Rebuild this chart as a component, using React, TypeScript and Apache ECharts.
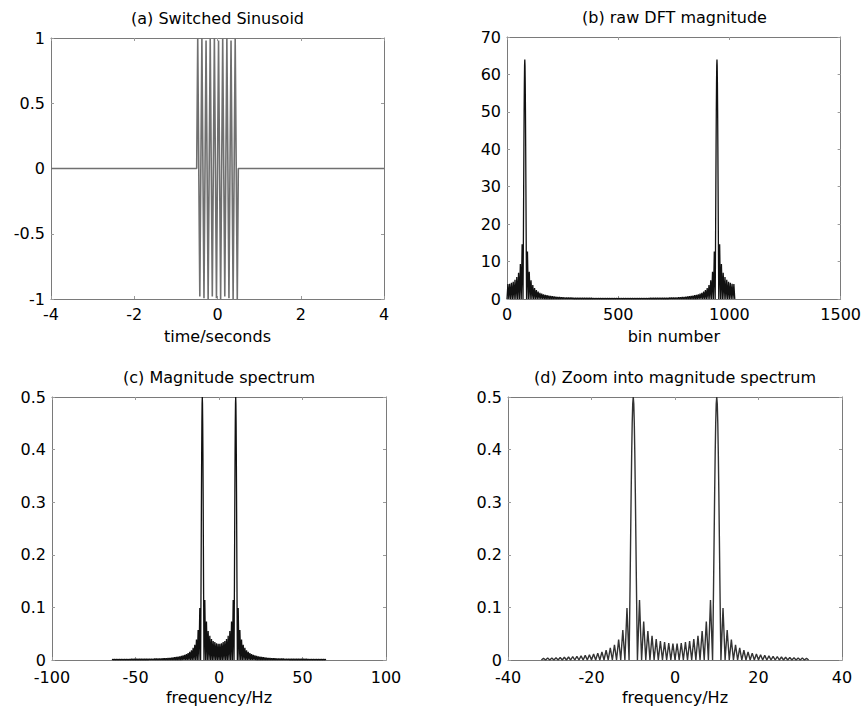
import React, { useEffect, useRef } from "react";
import * as echarts from "echarts";

// ---------- data ----------
// (a) switched sinusoid: zero outside the switched-on interval, +/-1 extremes inside
const sineTimes = [
  -4, -0.5, -0.475, -0.425, -0.375, -0.325, -0.275, -0.225, -0.175, -0.125, -0.075, -0.025,
  0.025, 0.075, 0.125, 0.175, 0.225, 0.275, 0.325, 0.375, 0.425, 0.475, 0.5, 4,
];
const sineValues = [
  0, 0, 0.995, -0.98, 1, -0.995, 0.98, -1, 0.995, -0.98, 1, -0.995,
  0.98, -1, 0.995, -0.98, 1, -0.995, 0.98, -1, 0.995, -1, 0, 0,
];

// normalised magnitude spectrum (positive half; negative half is its mirror)
// side-lobe peaks between 0 Hz and the 10 Hz tone (at 0.5, 1.5, ... 8.5 Hz)
const innerLobePeaks = [0.031, 0.032, 0.034, 0.036, 0.04, 0.046, 0.055, 0.073, 0.114];
// main lobe around the tone: offsets (Hz) from the tone and magnitudes
const toneHz = 10;
const mainLobeOffsets = [
  -0.875, -0.75, -0.625, -0.5, -0.375, -0.25, -0.125, 0, 0.125, 0.25, 0.375, 0.5, 0.625, 0.75, 0.875,
];
const mainLobeValues = [
  0.07, 0.15, 0.235, 0.318, 0.392, 0.45, 0.487, 0.5, 0.487, 0.45, 0.392, 0.318, 0.235, 0.15, 0.07,
];
// side-lobe peaks above the tone (at 11.5, 12.5, ... 63.5 Hz)
const outerLobePeaks = [
  0.099, 0.057, 0.039, 0.029, 0.023, 0.0185, 0.0154, 0.0131, 0.0114, 0.0099,
  0.0088, 0.0078, 0.007, 0.0063, 0.0057, 0.0052, 0.0047, 0.0043, 0.0039, 0.0036,
  0.0033, 0.0031, 0.003, 0.0029, 0.0028, 0.0027, 0.0026, 0.0025, 0.0024, 0.0024,
  0.0023, 0.0022, 0.0022, 0.0021, 0.0021, 0.002, 0.002, 0.0019, 0.0019, 0.0018,
  0.0018, 0.0018, 0.0017, 0.0017, 0.0017, 0.0016, 0.0016, 0.0016, 0.0015, 0.0015,
  0.0015, 0.0015, 0.0014,
];
const dftSize = 1024;
const binsPerHz = 8;
const rawScale = 128; // number of switched-on samples

// tick settings
const aTicks = { xMin: -4, xMax: 4, xInt: 2, yMin: -1, yMax: 1, yInt: 0.5 };
const bTicks = { xMin: 0, xMax: 1500, xInt: 500, yMin: 0, yMax: 70, yInt: 10 };
const cTicks = { xMin: -100, xMax: 100, xInt: 50, yMin: 0, yMax: 0.5, yInt: 0.1 };
const dTicks = { xMin: -40, xMax: 40, xInt: 20, yMin: 0, yMax: 0.5, yInt: 0.1 };
const titles = [
  "(a) Switched Sinusoid",
  "(b) raw DFT magnitude",
  "(c) Magnitude spectrum",
  "(d) Zoom into magnitude spectrum",
];
const xNames = ["time/seconds", "bin number", "frequency/Hz", "frequency/Hz"];

// ---------- build series ----------
function halfSpectrum(): [number, number][] {
  const pts: [number, number][] = [];
  innerLobePeaks.forEach((v, i) => {
    pts.push([i, 0]);
    pts.push([i + 0.5, v]);
  });
  pts.push([toneHz - 1, 0]);
  mainLobeOffsets.forEach((o, j) => pts.push([toneHz + o, mainLobeValues[j]]));
  outerLobePeaks.forEach((v, i) => {
    pts.push([toneHz + 1 + i, 0]);
    pts.push([toneHz + 1.5 + i, v]);
  });
  pts.push([toneHz + 1 + outerLobePeaks.length, 0]);
  return pts;
}

const FONT = "'DejaVu Sans', 'Liberation Sans', sans-serif";
const FS = 16;
const FRAME = "#7a7a7a";
const fmt = (v: number) => String(+v.toFixed(6));

function xAxes(g: number, t: any, name: string, labelMargin: number, nameGap: number) {
  const common = {
    type: "value",
    gridIndex: g,
    min: t.xMin,
    max: t.xMax,
    interval: t.xInt,
    axisLine: { show: true, onZero: false, lineStyle: { color: FRAME, width: 1 } },
    axisTick: { show: true, inside: true, length: 3, lineStyle: { color: "#9a9a9a" } },
    splitLine: { show: false },
  };
  return [
    {
      ...common,
      position: "bottom",
      name,
      nameLocation: "middle",
      nameGap,
      nameTextStyle: { color: "#000", fontSize: FS, fontFamily: FONT },
      axisLabel: {
        color: "#000",
        fontSize: FS,
        fontFamily: FONT,
        margin: labelMargin,
        lineHeight: 11,
        formatter: fmt,
      },
    },
    { ...common, position: "top", axisLabel: { show: false } },
  ];
}

function yAxes(g: number, t: any) {
  const common = {
    type: "value",
    gridIndex: g,
    min: t.yMin,
    max: t.yMax,
    interval: t.yInt,
    axisLine: { show: true, onZero: false, lineStyle: { color: FRAME, width: 1 } },
    axisTick: { show: true, inside: true, length: 3, lineStyle: { color: "#9a9a9a" } },
    splitLine: { show: false },
  };
  return [
    {
      ...common,
      position: "left",
      axisLabel: {
        color: "#000",
        fontSize: FS,
        fontFamily: FONT,
        margin: 6,
        lineHeight: 11,
        formatter: fmt,
      },
    },
    { ...common, position: "right", axisLabel: { show: false } },
  ];
}

export default function App() {
  const ref = useRef<HTMLDivElement>(null);
  useEffect(() => {
    if (!ref.current) return;
    const chart = echarts.init(ref.current, undefined, { renderer: "svg" });

    const half = halfSpectrum();
    const full: [number, number][] = [
      ...half.slice(1).reverse().map(([f, v]) => [-f, v] as [number, number]),
      ...half,
    ];
    const zoom = full.filter(([f]) => Math.abs(f) <= 32);
    const raw: [number, number][] = [
      ...half.map(([f, v]) => [f * binsPerHz, v * rawScale] as [number, number]),
      ...half
        .slice(0, -1)
        .reverse()
        .map(([f, v]) => [dftSize - f * binsPerHz, v * rawScale] as [number, number]),
    ];
    const sine = sineTimes.map((t, i) => [t, sineValues[i]]);

    const grids = [
      { left: 51, top: 38, width: 333, height: 261 },
      { left: 507, top: 37, width: 335, height: 262 },
      { left: 52, top: 397, width: 334, height: 263 },
      { left: 508, top: 397, width: 334, height: 263 },
    ];
    const ticks = [aTicks, bTicks, cTicks, dTicks];
    const labelMargins = [10, 10, 12, 12];
    const nameGaps = [29, 29, 29, 29];
    const datasets = [sine, raw, full, zoom];
    const colors = ["#707070", "#111", "#111", "#333"];
    const widths = [1.6, 1.3, 1.3, 1.4];

    const option: any = {
      animation: false,
      backgroundColor: "#fff",
      grid: grids.map((g) => ({ ...g, show: false })),
      xAxis: ticks.flatMap((t, i) => xAxes(i, t, xNames[i], labelMargins[i], nameGaps[i])),
      yAxis: ticks.flatMap((t, i) => yAxes(i, t)),
      series: datasets.map((d, i) => ({
        type: "line",
        xAxisIndex: i * 2,
        yAxisIndex: i * 2,
        data: d,
        showSymbol: false,
        symbol: "none",
        lineStyle: { color: colors[i], width: widths[i] },
        silent: true,
      })),
      graphic: titles.map((text, i) => ({
        type: "text",
        x: grids[i].left + grids[i].width / 2,
        y: grids[i].top - 20,
        style: {
          text,
          font: `${FS}px ${FONT}`,
          fill: "#000",
          textAlign: "center",
          align: "center",
          textVerticalAlign: "middle",
          verticalAlign: "middle",
        },
      })),
    };
    chart.setOption(option);
    return () => chart.dispose();
  }, []);
  return (
    <div
      ref={ref}
      style={{ position: "fixed", left: 0, top: 0, width: 864, height: 707, background: "#fff" }}
    />
  );
}
